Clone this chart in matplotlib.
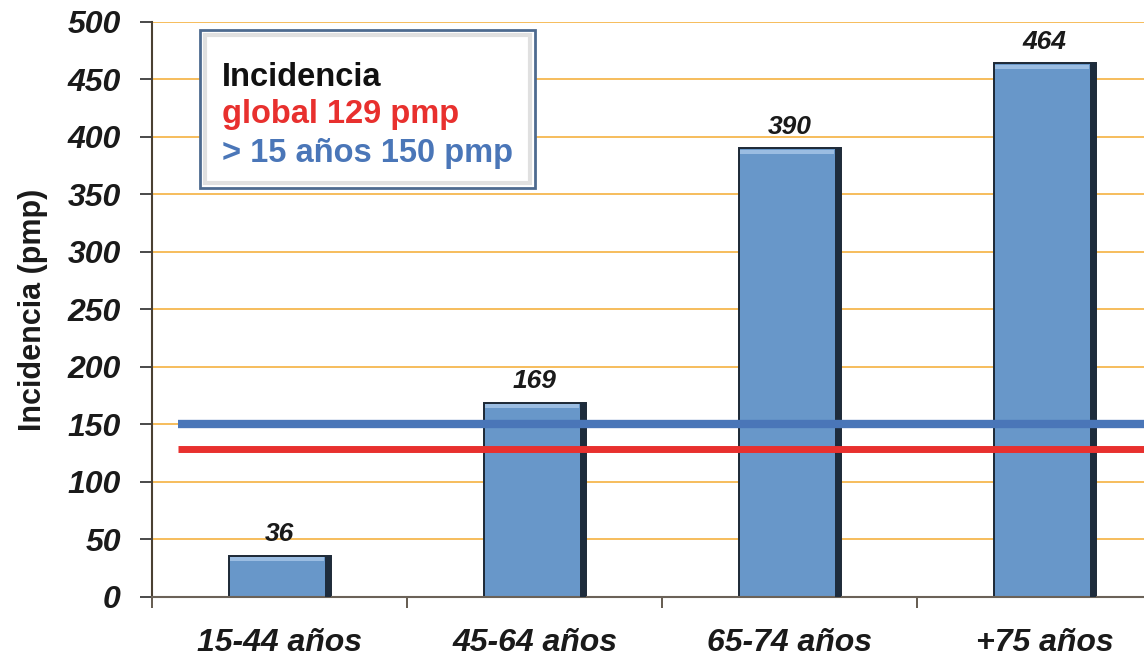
import matplotlib
matplotlib.use("Agg")
import matplotlib.pyplot as plt
from matplotlib.patches import FancyBboxPatch, Rectangle
import numpy as np

categories = ["15-44 años", "45-64 años", "65-74 años", "+75 años"]
incidence = [36, 169, 390, 464]
global_rate = 129
adult_rate = 150
y_ticks = [0, 50, 100, 150, 200, 250, 300, 350, 400, 450, 500]

plt.rcParams['font.family'] = ['Liberation Sans', 'DejaVu Sans']

fig = plt.figure(figsize=(11.44, 6.62), dpi=100)
ax = fig.add_axes([0.1329, 0.0982, 0.8916, 0.8686])

x = np.arange(len(categories))
bar_w = 0.4

ax.set_xlim(-0.5, len(categories) - 0.5)
ax.set_ylim(0, 500)

# grid lines
for t in y_ticks[1:]:
    ax.axhline(t, color='#f6bd5c', lw=1.4, zorder=0)

# bars with a darker right edge and a light top rim for a bevelled look
ax.bar(x, incidence, width=bar_w, color='#6897c9',
       edgecolor='#1c2835', linewidth=1.4, zorder=2)
for xi, v in zip(x, incidence):
    ax.add_patch(Rectangle((xi + bar_w / 2 - 0.02, 0), 0.02, v,
                           facecolor='#1e2c3c', edgecolor='none', zorder=3))
    ax.add_patch(Rectangle((xi - bar_w / 2 + 0.006, v - 5), bar_w - 0.03, 3.5,
                           facecolor='#9bbde2', edgecolor='none', zorder=3))
    ax.text(xi, v + 8, f"{v}", ha='center', va='bottom', fontsize=19,
            fontweight='bold', style='italic', color='#1a1a1a', zorder=4)

# reference lines
ax.plot([-0.4, 3.5], [adult_rate, adult_rate], color='#4a76b8', lw=6,
        solid_capstyle='butt', zorder=5)
ax.plot([-0.4, 3.5], [global_rate, global_rate], color='#e8302e', lw=5,
        solid_capstyle='butt', zorder=5)

# axes styling
for s in ['top', 'right']:
    ax.spines[s].set_visible(False)
ax.spines['left'].set_color('#4a4032')
ax.spines['bottom'].set_color('#6b6258')
ax.spines['left'].set_linewidth(1.5)
ax.spines['bottom'].set_linewidth(1.5)

ax.set_yticks(y_ticks)
ax.set_yticklabels([str(t) for t in y_ticks], fontsize=23, fontweight='bold',
                   style='italic', color='#1a1a1a')
ax.tick_params(axis='y', length=8.5, width=1.3, color='#3a3a3a', pad=14)

ax.set_xticks(x)
ax.set_xticklabels(categories, fontsize=23, fontweight='bold', style='italic',
                   color='#1a1a1a')
ax.tick_params(axis='x', length=0, pad=22)
ax.set_xticks(np.arange(-0.5, len(categories)), minor=True)
ax.tick_params(axis='x', which='minor', length=8, width=1.2, color='#4a4032')

ax.set_ylabel("Incidencia (pmp)", fontsize=22, fontweight='bold', labelpad=14,
              color='#1a1a1a')

# annotation box
box = FancyBboxPatch((200 / 1144, 1 - 188 / 662), 335 / 1144, 158 / 662,
                     boxstyle='square,pad=0', transform=fig.transFigure,
                     facecolor='white', edgecolor='#4d6a8f', linewidth=2,
                     zorder=10)
fig.patches.append(box)
inner = FancyBboxPatch((205 / 1144, 1 - 183 / 662), 325 / 1144, 148 / 662,
                       boxstyle='square,pad=0', transform=fig.transFigure,
                       facecolor='none', edgecolor='#e0e0e0', linewidth=3,
                       zorder=11)
fig.patches.append(inner)
fig.text(222 / 1144, 1 - 77 / 662, "Incidencia", fontsize=23.5, fontweight='bold',
         color='#111111', va='center', zorder=12)
fig.text(222 / 1144, 1 - 115 / 662, f"global {global_rate} pmp", fontsize=23.5,
         fontweight='bold', color='#e8302e', va='center', zorder=12)
fig.text(222 / 1144, 1 - 154 / 662, f"> 15 años {adult_rate} pmp", fontsize=23.5,
         fontweight='bold', color='#4a76b8', va='center', zorder=12)

fig.savefig("out.png", dpi=100)
